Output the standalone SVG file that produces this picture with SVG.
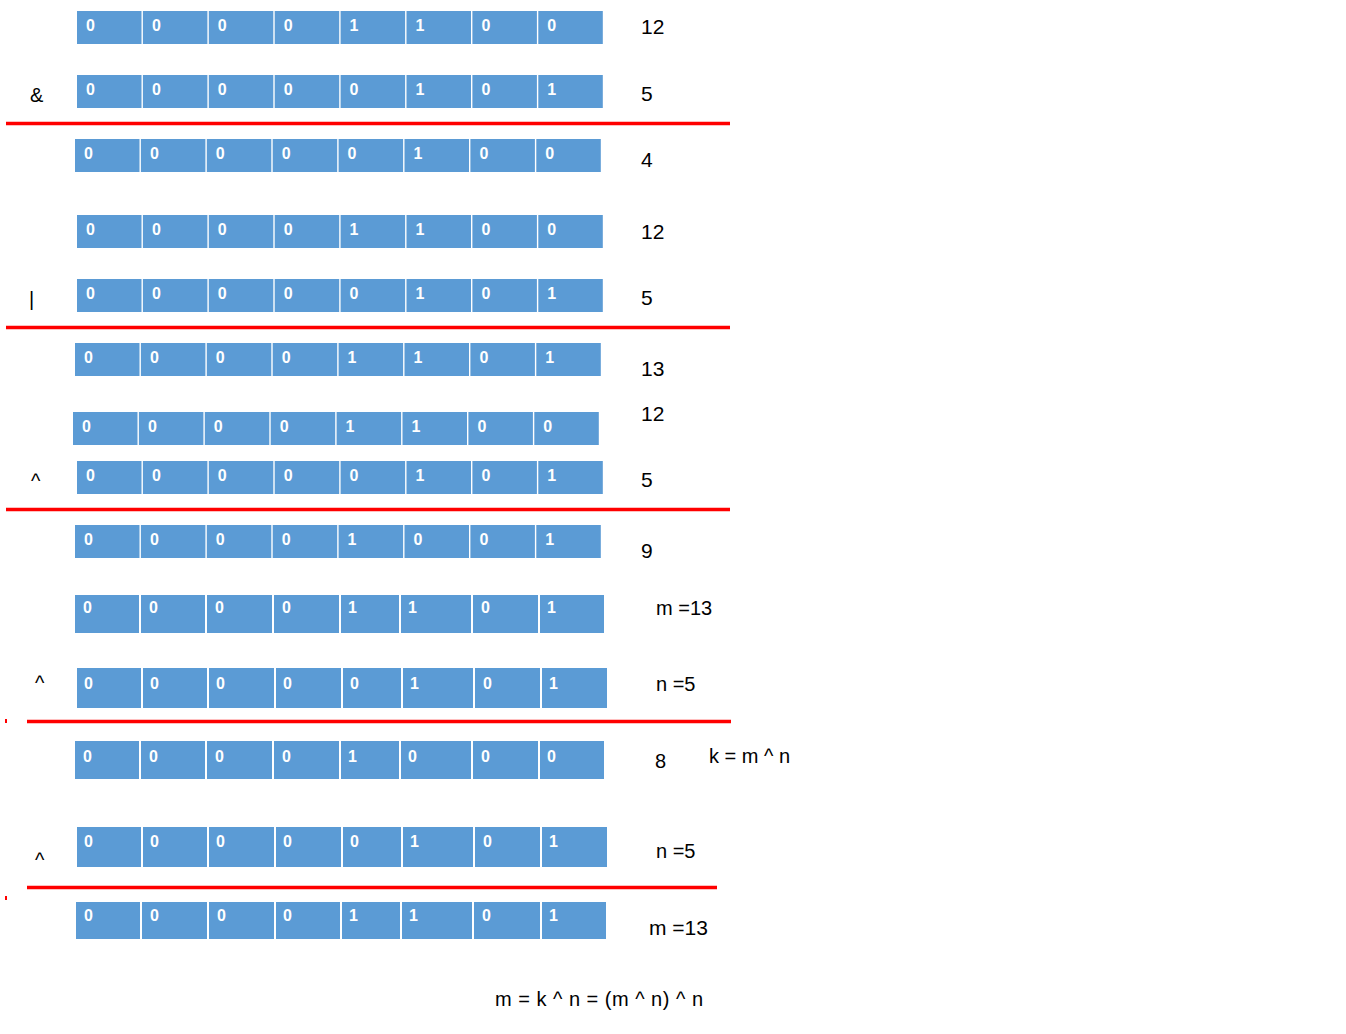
<svg xmlns="http://www.w3.org/2000/svg" xmlns:xlink="http://www.w3.org/1999/xlink" width="1346" height="1034" viewBox="0 0 1346 1034">
<style>
.c{fill:#5b9bd5}
.b{fill:#ffffff;font-family:"Liberation Sans",Arial,sans-serif;font-weight:bold;font-size:16px}
.l{fill:#000000;font-family:"Liberation Sans",Arial,sans-serif;font-size:21px}
.s{fill:#000000;font-family:"Liberation Sans",Arial,sans-serif;font-size:20px}
.op{fill:#000000;font-family:"Liberation Sans",Arial,sans-serif;font-size:20px}
.r{stroke:#ff0000;stroke-width:3.5;fill:none}
</style>
<defs>
<g id="cells">
<rect class="c" x="0" y="0" width="64.5" height="33"/>
<rect class="c" x="65.9" y="0" width="64.5" height="33"/>
<rect class="c" x="131.8" y="0" width="64.5" height="33"/>
<rect class="c" x="197.7" y="0" width="64.5" height="33"/>
<rect class="c" x="263.6" y="0" width="64.5" height="33"/>
<rect class="c" x="329.5" y="0" width="64.5" height="33"/>
<rect class="c" x="395.4" y="0" width="64.5" height="33"/>
<rect class="c" x="461.3" y="0" width="64.5" height="33"/>
</g>
</defs>
<rect x="0" y="0" width="1346" height="1034" fill="#ffffff"/>

<g id="row1" transform="translate(77,11)">
<use xlink:href="#cells"/>
<text class="b" y="20"><tspan x="9">0</tspan><tspan x="74.9">0</tspan><tspan x="140.8">0</tspan><tspan x="206.7">0</tspan><tspan x="272.6">1</tspan><tspan x="338.5">1</tspan><tspan x="404.4">0</tspan><tspan x="470.3">0</tspan></text>
</g>
<g id="row2" transform="translate(77,75)">
<use xlink:href="#cells"/>
<text class="b" y="20"><tspan x="9">0</tspan><tspan x="74.9">0</tspan><tspan x="140.8">0</tspan><tspan x="206.7">0</tspan><tspan x="272.6">0</tspan><tspan x="338.5">1</tspan><tspan x="404.4">0</tspan><tspan x="470.3">1</tspan></text>
</g>
<g id="row3" transform="translate(75,139)">
<use xlink:href="#cells"/>
<text class="b" y="20"><tspan x="9">0</tspan><tspan x="74.9">0</tspan><tspan x="140.8">0</tspan><tspan x="206.7">0</tspan><tspan x="272.6">0</tspan><tspan x="338.5">1</tspan><tspan x="404.4">0</tspan><tspan x="470.3">0</tspan></text>
</g>
<g id="row4" transform="translate(77,215)">
<use xlink:href="#cells"/>
<text class="b" y="20"><tspan x="9">0</tspan><tspan x="74.9">0</tspan><tspan x="140.8">0</tspan><tspan x="206.7">0</tspan><tspan x="272.6">1</tspan><tspan x="338.5">1</tspan><tspan x="404.4">0</tspan><tspan x="470.3">0</tspan></text>
</g>
<g id="row5" transform="translate(77,279)">
<use xlink:href="#cells"/>
<text class="b" y="20"><tspan x="9">0</tspan><tspan x="74.9">0</tspan><tspan x="140.8">0</tspan><tspan x="206.7">0</tspan><tspan x="272.6">0</tspan><tspan x="338.5">1</tspan><tspan x="404.4">0</tspan><tspan x="470.3">1</tspan></text>
</g>
<g id="row6" transform="translate(75,343)">
<use xlink:href="#cells"/>
<text class="b" y="20"><tspan x="9">0</tspan><tspan x="74.9">0</tspan><tspan x="140.8">0</tspan><tspan x="206.7">0</tspan><tspan x="272.6">1</tspan><tspan x="338.5">1</tspan><tspan x="404.4">0</tspan><tspan x="470.3">1</tspan></text>
</g>
<g id="row7" transform="translate(73,412)">
<use xlink:href="#cells"/>
<text class="b" y="20"><tspan x="9">0</tspan><tspan x="74.9">0</tspan><tspan x="140.8">0</tspan><tspan x="206.7">0</tspan><tspan x="272.6">1</tspan><tspan x="338.5">1</tspan><tspan x="404.4">0</tspan><tspan x="470.3">0</tspan></text>
</g>
<g id="row8" transform="translate(77,461)">
<use xlink:href="#cells"/>
<text class="b" y="20"><tspan x="9">0</tspan><tspan x="74.9">0</tspan><tspan x="140.8">0</tspan><tspan x="206.7">0</tspan><tspan x="272.6">0</tspan><tspan x="338.5">1</tspan><tspan x="404.4">0</tspan><tspan x="470.3">1</tspan></text>
</g>
<g id="row9" transform="translate(75,525)">
<use xlink:href="#cells"/>
<text class="b" y="20"><tspan x="9">0</tspan><tspan x="74.9">0</tspan><tspan x="140.8">0</tspan><tspan x="206.7">0</tspan><tspan x="272.6">1</tspan><tspan x="338.5">0</tspan><tspan x="404.4">0</tspan><tspan x="470.3">1</tspan></text>
</g>

<g id="row10">
<rect class="c" x="75" y="595" width="64" height="38"/>
<rect class="c" x="141" y="595" width="64" height="38"/>
<rect class="c" x="207" y="595" width="65" height="38"/>
<rect class="c" x="274" y="595" width="65" height="38"/>
<rect class="c" x="341" y="595" width="58" height="38"/>
<rect class="c" x="401" y="595" width="70" height="38"/>
<rect class="c" x="473" y="595" width="65" height="38"/>
<rect class="c" x="540" y="595" width="64" height="38"/>
<text class="b" y="613" font-size="15"><tspan x="83">0</tspan><tspan x="149">0</tspan><tspan x="215">0</tspan><tspan x="282">0</tspan><tspan x="348">1</tspan><tspan x="408">1</tspan><tspan x="481">0</tspan><tspan x="547">1</tspan></text>
</g>
<g id="row11">
<rect class="c" x="77" y="668" width="64" height="40"/>
<rect class="c" x="143" y="668" width="64" height="40"/>
<rect class="c" x="209" y="668" width="65" height="40"/>
<rect class="c" x="276" y="668" width="65" height="40"/>
<rect class="c" x="343" y="668" width="58" height="40"/>
<rect class="c" x="403" y="668" width="70" height="40"/>
<rect class="c" x="475" y="668" width="65" height="40"/>
<rect class="c" x="542" y="668" width="65" height="40"/>
<text class="b" y="689" font-size="15"><tspan x="84">0</tspan><tspan x="150">0</tspan><tspan x="216">0</tspan><tspan x="283">0</tspan><tspan x="350">0</tspan><tspan x="410">1</tspan><tspan x="483">0</tspan><tspan x="549">1</tspan></text>
</g>
<g id="row12">
<rect class="c" x="75" y="741" width="64" height="38"/>
<rect class="c" x="141" y="741" width="64" height="38"/>
<rect class="c" x="207" y="741" width="65" height="38"/>
<rect class="c" x="274" y="741" width="65" height="38"/>
<rect class="c" x="341" y="741" width="58" height="38"/>
<rect class="c" x="401" y="741" width="70" height="38"/>
<rect class="c" x="473" y="741" width="65" height="38"/>
<rect class="c" x="540" y="741" width="64" height="38"/>
<text class="b" y="762" font-size="15"><tspan x="83">0</tspan><tspan x="149">0</tspan><tspan x="215">0</tspan><tspan x="282">0</tspan><tspan x="348">1</tspan><tspan x="408">0</tspan><tspan x="481">0</tspan><tspan x="547">0</tspan></text>
</g>
<g id="row13">
<rect class="c" x="77" y="827" width="64" height="40"/>
<rect class="c" x="143" y="827" width="64" height="40"/>
<rect class="c" x="209" y="827" width="65" height="40"/>
<rect class="c" x="276" y="827" width="65" height="40"/>
<rect class="c" x="343" y="827" width="58" height="40"/>
<rect class="c" x="403" y="827" width="70" height="40"/>
<rect class="c" x="475" y="827" width="65" height="40"/>
<rect class="c" x="542" y="827" width="65" height="40"/>
<text class="b" y="847" font-size="15"><tspan x="84">0</tspan><tspan x="150">0</tspan><tspan x="216">0</tspan><tspan x="283">0</tspan><tspan x="350">0</tspan><tspan x="410">1</tspan><tspan x="483">0</tspan><tspan x="549">1</tspan></text>
</g>
<g id="row14">
<rect class="c" x="76" y="902" width="64" height="37"/>
<rect class="c" x="142" y="902" width="65" height="37"/>
<rect class="c" x="209" y="902" width="65" height="37"/>
<rect class="c" x="276" y="902" width="64" height="37"/>
<rect class="c" x="342" y="902" width="58" height="37"/>
<rect class="c" x="402" y="902" width="70" height="37"/>
<rect class="c" x="474" y="902" width="66" height="37"/>
<rect class="c" x="542" y="902" width="64" height="37"/>
<text class="b" y="921" font-size="15"><tspan x="84">0</tspan><tspan x="150">0</tspan><tspan x="217">0</tspan><tspan x="283">0</tspan><tspan x="349">1</tspan><tspan x="409">1</tspan><tspan x="482">0</tspan><tspan x="549">1</tspan></text>
</g>

<g id="connectors">
<line class="r" x1="6" y1="123.5" x2="730" y2="123.5"/>
<line class="r" x1="6" y1="327.5" x2="730" y2="327.5"/>
<line class="r" x1="6" y1="509.5" x2="730" y2="509.5"/>
<line class="r" x1="27" y1="721.5" x2="731" y2="721.5"/>
<line class="r" x1="27" y1="887.5" x2="717" y2="887.5"/>
<rect x="5" y="719" width="2" height="4" fill="#ff0000"/>
<rect x="5" y="896" width="2" height="4" fill="#ff0000"/>
</g>

<g id="labels">
<text class="l" x="641" y="34">12</text>
<text class="l" x="641" y="101">5</text>
<text class="l" x="641" y="167">4</text>
<text class="l" x="641" y="239">12</text>
<text class="l" x="641" y="305">5</text>
<text class="l" x="641" y="376">13</text>
<text class="l" x="641" y="421">12</text>
<text class="l" x="641" y="487">5</text>
<text class="l" x="641" y="558">9</text>
<text class="s" x="656" y="615">m =13</text>
<text class="s" x="656" y="691">n =5</text>
<text class="s" x="655" y="768">8</text>
<text class="s" x="709" y="763">k = m ^ n</text>
<text class="s" x="656" y="858">n =5</text>
<text class="l" x="649" y="935">m =13</text>
<text class="s" x="495" y="1006" textLength="208" lengthAdjust="spacing">m = k ^ n = (m ^ n) ^ n</text>
<text class="op" x="30" y="102">&amp;</text>
<text class="op" x="29" y="306" font-size="22">|</text>
<text class="op" x="31" y="488">^</text>
<text class="op" x="35" y="690" font-size="16">^</text>
<text class="op" x="35" y="867" font-size="16">^</text>
</g>
</svg>
